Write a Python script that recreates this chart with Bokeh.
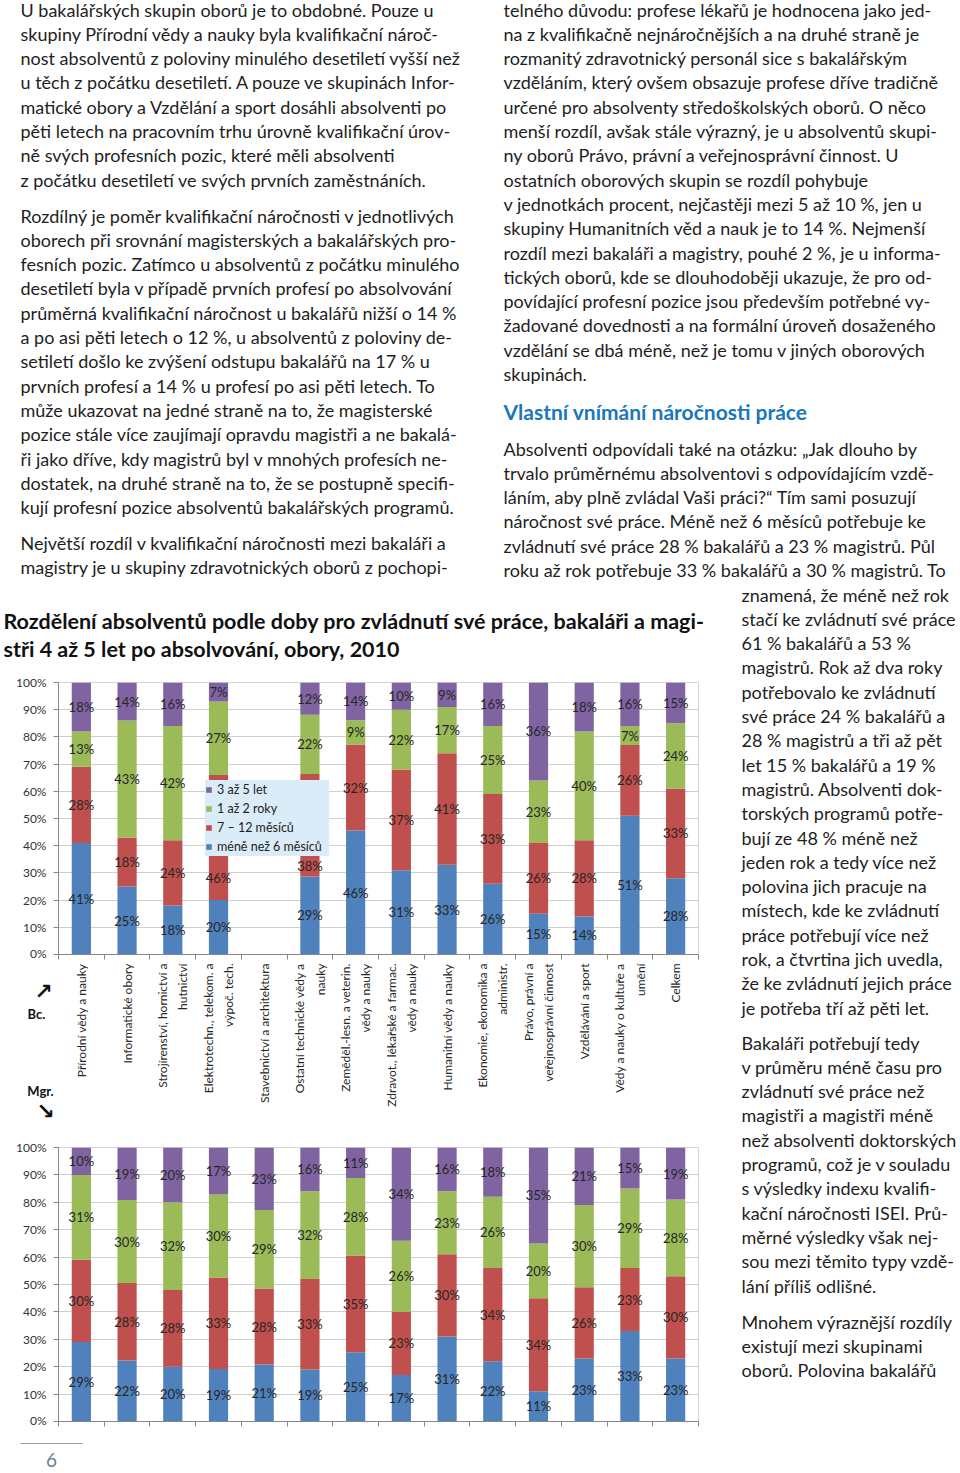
import numpy as np
from math import pi
from bokeh.plotting import figure
from bokeh.models import (Range1d, ColumnDataSource, FixedTicker, PrintfTickFormatter,
                          Legend, LegendItem)
from bokeh.layouts import column, row
from bokeh.embed import file_html
from bokeh.resources import INLINE
from bokeh.core.properties import value

# ---------------- data ----------------
categories = [
    "Přírodní vědy a nauky",
    "Informatické obory",
    "Strojírenství, hornictví a\nhutnictví",
    "Elektrotechn., telekom. a\nvýpoč. tech.",
    "Stavebnictví a architektura",
    "Ostatní technické vědy a\nnauky",
    "Zeměděl.-lesn. a veterin.\nvědy a nauky",
    "Zdravot., lékařské a farmac.\nvědy a nauky",
    "Humanitní vědy a nauky",
    "Ekonomie, ekonomika a\nadministr.",
    "Právo, právní a\nveřejnosprávní činnost",
    "Vzdělávání a sport",
    "Vědy a nauky o kultuře a\numění",
    "Celkem",
]
series_names = ["méně než 6 měsíců", "7 – 12 měsíců", "1 až 2 roky", "3 až 5 let"]
series_colors = ["#4F81BD", "#C0504D", "#9BBB59", "#8064A2"]

# Bc. (top chart) – Stavebnictví has no bar
bc_lt6 = [41, 25, 18, 20, 0, 29, 46, 31, 33, 26, 15, 14, 51, 28]
bc_7_12 = [28, 18, 24, 46, 0, 38, 32, 37, 41, 33, 26, 28, 26, 33]
bc_1_2 = [13, 43, 42, 27, 0, 22, 9, 22, 17, 25, 23, 40, 7, 24]
bc_3_5 = [18, 14, 16, 7, 0, 12, 14, 10, 9, 16, 36, 18, 16, 15]

# Mgr. (bottom chart)
mgr_lt6 = [29, 22, 20, 19, 21, 19, 25, 17, 31, 22, 11, 23, 33, 23]
mgr_7_12 = [30, 28, 28, 33, 28, 33, 35, 23, 30, 34, 34, 26, 23, 30]
mgr_1_2 = [31, 30, 32, 30, 29, 32, 28, 26, 23, 26, 20, 30, 29, 28]
mgr_3_5 = [10, 19, 20, 17, 23, 16, 11, 34, 16, 18, 35, 21, 15, 19]

y_ticks = list(range(0, 101, 10))

# ---------------- texts ----------------
left_p1 = [
    "U bakalářských skupin oborů je to obdobné. Pouze u",
    "skupiny Přírodní vědy a nauky byla kvalifikační nároč-",
    "nost absolventů z poloviny minulého desetiletí vyšší než",
    "u těch z počátku desetiletí. A pouze ve skupinách Infor-",
    "matické obory a Vzdělání a sport dosáhli absolventi po",
    "pěti letech na pracovním trhu úrovně kvalifikační úrov-",
    "ně svých profesních pozic, které měli absolventi",
    "z počátku desetiletí ve svých prvních zaměstnáních.",
]
left_p2 = [
    "Rozdílný je poměr kvalifikační náročnosti v jednotlivých",
    "oborech při srovnání magisterských a bakalářských pro-",
    "fesních pozic. Zatímco u absolventů z počátku minulého",
    "desetiletí byla v případě prvních profesí po absolvování",
    "průměrná kvalifikační náročnost u bakalářů nižší o 14 %",
    "a po asi pěti letech o 12 %, u absolventů z poloviny de-",
    "setiletí došlo ke zvýšení odstupu bakalářů na 17 % u",
    "prvních profesí a 14 % u profesí po asi pěti letech. To",
    "může ukazovat na jedné straně na to, že magisterské",
    "pozice stále více zaujímají opravdu magistři a ne bakalá-",
    "ři jako dříve, kdy magistrů byl v mnohých profesích ne-",
    "dostatek, na druhé straně na to, že se postupně specifi-",
    "kují profesní pozice absolventů bakalářských programů.",
]
left_p3 = [
    "Největší rozdíl v kvalifikační náročnosti mezi bakaláři a",
    "magistry je u skupiny zdravotnických oborů z pochopi-",
]
right_p1 = [
    "telného důvodu: profese lékařů je hodnocena jako jed-",
    "na z kvalifikačně nejnáročnějších a na druhé straně je",
    "rozmanitý zdravotnický personál sice s bakalářským",
    "vzděláním, který ovšem obsazuje profese dříve tradičně",
    "určené pro absolventy středoškolských oborů. O něco",
    "menší rozdíl, avšak stále výrazný, je u absolventů skupi-",
    "ny oborů Právo, právní a veřejnosprávní činnost. U",
    "ostatních oborových skupin se rozdíl pohybuje",
    "v jednotkách procent, nejčastěji mezi 5 až 10 %, jen u",
    "skupiny Humanitních věd a nauk je to 14 %. Nejmenší",
    "rozdíl mezi bakaláři a magistry, pouhé 2 %, je u informa-",
    "tických oborů, kde se dlouhodoběji ukazuje, že pro od-",
    "povídající profesní pozice jsou především potřebné vy-",
    "žadované dovednosti a na formální úroveň dosaženého",
    "vzdělání se dbá méně, než je tomu v jiných oborových",
    "skupinách.",
]
heading = "Vlastní vnímání náročnosti práce"
right_p2 = [
    "Absolventi odpovídali také na otázku: „Jak dlouho by",
    "trvalo průměrnému absolventovi s odpovídajícím vzdě-",
    "láním, aby plně zvládal Vaši práci?“ Tím sami posuzují",
    "náročnost své práce. Méně než 6 měsíců potřebuje ke",
    "zvládnutí své práce 28 % bakalářů a 23 % magistrů. Půl",
    "roku až rok potřebuje 33 % bakalářů a 30 % magistrů. To",
]
narrow_p1 = [
    "znamená, že méně než rok",
    "stačí ke zvládnutí své práce",
    "61 % bakalářů a 53 %",
    "magistrů. Rok až dva roky",
    "potřebovalo ke zvládnutí",
    "své práce 24 % bakalářů a",
    "28 % magistrů a tři až pět",
    "let 15 % bakalářů a 19 %",
    "magistrů. Absolventi dok-",
    "torských programů potře-",
    "bují ze 48 % méně než",
    "jeden rok a tedy více než",
    "polovina jich pracuje na",
    "místech, kde ke zvládnutí",
    "práce potřebují více než",
    "rok, a čtvrtina jich uvedla,",
    "že ke zvládnutí jejich práce",
    "je potřeba tří až pěti let.",
]
narrow_p2 = [
    "Bakaláři potřebují tedy",
    "v průměru méně času pro",
    "zvládnutí své práce než",
    "magistři a magistři méně",
    "než absolventi doktorských",
    "programů, což je v souladu",
    "s výsledky indexu kvalifi-",
    "kační náročnosti ISEI. Prů-",
    "měrné výsledky však nej-",
    "sou mezi těmito typy vzdě-",
    "lání příliš odlišné.",
]
narrow_p3 = [
    "Mnohem výraznější rozdíly",
    "existují mezi skupinami",
    "oborů. Polovina bakalářů",
]
chart_title = [
    "Rozdělení absolventů podle doby pro zvládnutí své práce, bakaláři a magi-",
    "stři 4 až 5 let po absolvování, obory, 2010",
]

# ---------------- style ----------------
FONT = "Lato"
TXT = "#1e1e1e"
BODY = "18px"
LH = 24.3


def no_align(p):
    try:
        p.frame_align = False
    except Exception:
        pass
    return p


def text_fig(w, h, x0, y0):
    p = figure(width=w, height=h, x_range=Range1d(x0, x0 + w), y_range=Range1d(y0 + h, y0),
               toolbar_location=None, output_backend="svg", min_border=0,
               x_axis_location=None, y_axis_location=None, outline_line_color=None)
    p.grid.visible = False
    return no_align(p)


def para(p, x, y0, lines, size=BODY, color=TXT, style="normal", lh=LH):
    ys = [y0 + i * lh for i in range(len(lines))]
    p.text(x=[x] * len(lines), y=ys, text=lines, text_font=value(FONT),
           text_font_size=size, text_color=color, text_font_style=style,
           text_baseline="middle", text_align="left")


# ---------------- top text block ----------------
figA = text_fig(960, 582, 0, 0)
para(figA, 20, 9, left_p1)
para(figA, 20, 215, left_p2)
para(figA, 20, 542, left_p3)
para(figA, 503, 9, right_p1)
para(figA, 503, 411, [heading], size="21px", color="#1a76bd", style="bold")
para(figA, 503, 448, right_p2)

# narrow right column
narrow = text_fig(220, 891, 740, 582)
para(narrow, 741, 594, narrow_p1)
para(narrow, 741, 1042, narrow_p2)
para(narrow, 741, 1321, narrow_p3)

# chart title
title_fig = text_fig(740, 90, 0, 582)
para(title_fig, 3, 620, chart_title, size="21.5px", color="#111111", style="bold", lh=28)

# ---------------- charts ----------------
N = len(categories)
xs = np.arange(N) + 0.5
CAT_W = 640 / N
LEG_LOC = (147, 98)
LEG_W, LEG_H = 130, 82


def chart(series, height, top, with_legend):
    p = figure(width=740, height=height, x_range=Range1d(0, N), y_range=Range1d(0, 100),
               toolbar_location=None, output_backend="svg",
               min_border_left=58, min_border_right=42, min_border_top=top, min_border_bottom=6)
    no_align(p)
    vals = np.array(series, dtype=float)
    totals = vals.sum(axis=0)
    totals[totals == 0] = 1
    norm = vals / totals * 100
    data = dict(x=xs)
    keys = []
    for j in range(4):
        data[f"s{j}"] = norm[j]
        keys.append(f"s{j}")
    src = ColumnDataSource(data)
    rs = p.vbar_stack(keys, x="x", width=0.42, fill_color=series_colors, line_color=None, source=src)

    frame_h = height - top - 6
    ppp = frame_h / 100.0
    leg_lo = LEG_LOC[1] / ppp
    leg_hi = (LEG_LOC[1] + LEG_H) / ppp
    leg_x0 = LEG_LOC[0] / CAT_W
    leg_x1 = (LEG_LOC[0] + LEG_W) / CAT_W

    lx, ly, lt = [], [], []
    tops = np.cumsum(norm, axis=0)
    for i in range(N):
        for j in range(4):
            v = series[j][i]
            if v == 0:
                continue
            t = tops[j, i]
            b = t - norm[j, i]
            c = (t + b) / 2
            if with_legend and leg_x0 < xs[i] < leg_x1 and leg_lo < c < leg_hi:
                if b < leg_lo:
                    c = (b + leg_lo) / 2
                elif t > leg_hi:
                    c = (t + leg_hi) / 2
            lx.append(xs[i])
            ly.append(c)
            lt.append(f"{v}%")
    p.text(x=lx, y=ly, text=lt, text_align="center", text_baseline="middle",
           text_font=value(FONT), text_font_size="13px", text_color="#262626")

    xa = p.xaxis[0]
    xa.ticker = FixedTicker(ticks=[], minor_ticks=list(range(N + 1)))
    xa.major_label_standoff = 0
    xa.major_tick_out = 0
    xa.major_tick_in = 0
    xa.minor_tick_out = 5
    xa.minor_tick_in = 0
    xa.axis_line_color = "#868686"
    xa.minor_tick_line_color = "#868686"

    ya = p.yaxis[0]
    ya.ticker = FixedTicker(ticks=y_ticks)
    ya.formatter = PrintfTickFormatter(format="%d%%")
    ya.major_label_text_font = FONT
    ya.major_label_text_font_size = "12px"
    ya.major_label_text_color = "#333333"
    ya.major_tick_out = 5
    ya.major_tick_in = 0
    ya.minor_tick_out = 0
    ya.minor_tick_in = 0
    ya.major_label_standoff = 7
    ya.axis_line_color = "#868686"
    ya.major_tick_line_color = "#868686"

    p.xgrid.visible = False
    p.ygrid.ticker = FixedTicker(ticks=y_ticks)
    p.ygrid.grid_line_color = "#cfcfcf"
    p.outline_line_color = "#d4d4d4"

    if with_legend:
        items = [LegendItem(label=series_names[j], renderers=[rs[j]]) for j in [3, 2, 1, 0]]
        leg = Legend(items=items, location=LEG_LOC, background_fill_color="#d9ecf8",
                     background_fill_alpha=1.0, border_line_color=None,
                     label_text_font=FONT, label_text_font_size="12.5px",
                     label_text_color="#222222", glyph_width=7, glyph_height=7,
                     label_standoff=5, spacing=0, padding=3, margin=0,
                     label_height=19, label_width=112)
        p.add_layout(leg)
    return p


top_fig = chart([bc_lt6, bc_7_12, bc_1_2, bc_3_5], 288, 10, True)
bot_fig = chart([mgr_lt6, mgr_7_12, mgr_1_2, mgr_3_5], 290, 10, False)

# category labels between the charts
lab_fig = figure(width=740, height=177, x_range=Range1d(-58 / CAT_W, (740 - 58) / CAT_W),
                 y_range=Range1d(177, 0), toolbar_location=None, output_backend="svg",
                 min_border=0, x_axis_location=None, y_axis_location=None,
                 outline_line_color=None)
no_align(lab_fig)
lab_fig.grid.visible = False
lab_fig.text(x=xs, y=[3] * N, text=categories, angle=pi / 2, text_align="right",
             text_baseline="middle", text_font=value(FONT), text_font_size="12px",
             text_color="#262626", text_line_height=1.35)
lab_fig.text(x=[-22 / CAT_W, -18 / CAT_W], y=[53, 130], text=["Bc.", "Mgr."],
             text_align="center", text_baseline="middle", text_font=value(FONT),
             text_font_size="13px", text_font_style="bold", text_color="#111111")
lab_fig.text(x=[-15 / CAT_W, -13 / CAT_W], y=[31, 151], text=["↗", "↘"],
             text_align="center", text_baseline="middle", text_font=value("DejaVu Sans"),
             text_font_size="22px", text_font_style="bold", text_color="#111111")

# footer
foot = text_fig(740, 46, 0, 1427)
foot.segment(x0=[20], y0=[1443], x1=[82], y1=[1443], line_color="#9a9a9a", line_width=1)
foot.text(x=[51], y=[1459], text=["6"], text_align="center", text_baseline="middle",
          text_font=value(FONT), text_font_size="19px", text_color="#6a7f94")

left = column(title_fig, top_fig, lab_fig, bot_fig, foot, spacing=0)
page = column(figA, row(left, narrow, spacing=0), spacing=0)

open("out.html", "w").write(file_html(page, INLINE))
